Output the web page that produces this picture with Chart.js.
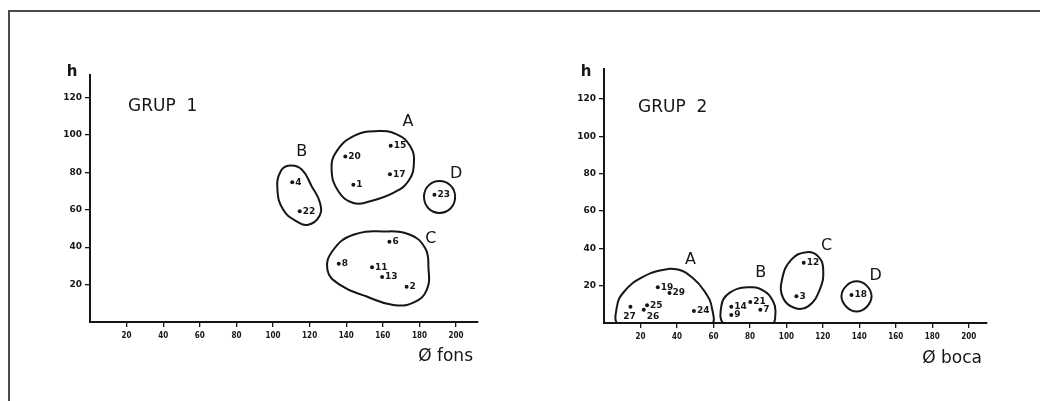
<!DOCTYPE html>
<html>
<head>
<meta charset="utf-8">
<script src="https://cdn.jsdelivr.net/npm/chart.js@4.4.1/dist/chart.umd.min.js"></script>
<style>
    body { margin: 0; background: #fff; width: 1040px; height: 401px; overflow: hidden; position: relative; }
    .frame { position: absolute; left: 8px; top: 10px; right: -4px; bottom: -4px; border-top: 2px solid #4a4a4a; border-left: 2px solid #4a4a4a; }
    .box { position: absolute; }
    #box1 { left: 40px; top: 60px; }
    #box2 { left: 560px; top: 60px; }
</style>
</head>
<body>
<div class="frame"></div>
<div class="box" id="box1"><canvas id="grup1Chart" width="460" height="320"></canvas></div>
<div class="box" id="box2"><canvas id="grup2Chart" width="460" height="320"></canvas></div>
<script>
// Dades llegides del gràfic original
const xTicks = [20, 40, 60, 80, 100, 120, 140, 160, 180, 200];
const yTicks = [20, 40, 60, 80, 100, 120];
const groupNames = ['A', 'B', 'C', 'D'];

// GRUP 1: h vs Ø fons
const grup1Labels = ['4', '22', '20', '1', '15', '17', '23', '6', '8', '11', '13', '2'];
const grup1X = [110.5, 114.6, 139.5, 143.9, 164.3, 163.9, 188.2, 163.6, 135.9, 154.1, 159.6, 173];
const grup1Y = [74.7, 59.2, 88.5, 73.3, 94.2, 79, 68, 42.9, 31.1, 29.3, 24, 18.9];
const grup1OutlineA = [[156.7, 102], [167.6, 100.3], [174.9, 94], [177, 85.1], [173.9, 75.2], [165.7, 69], [153, 64.5], [143.9, 63.6], [135.7, 69.9], [132, 81.5], [134.8, 91.3], [144.8, 99.7]];
const grup1OutlineB = [[109.3, 83.6], [115.7, 81.5], [121.1, 72.6], [125.7, 63.6], [125.3, 56.5], [119.3, 52], [112.9, 53.8], [105.6, 60], [102.4, 70.8], [104.2, 80.6]];
const grup1OutlineC = [[160.3, 48.4], [174.9, 46.6], [183.1, 39.5], [184.9, 29.7], [184, 17.2], [176.7, 10.4], [165.7, 9.1], [151.2, 13.6], [136.6, 19.8], [129.7, 27.9], [133, 38.6], [143.9, 46.6]];
const grup1OutlineD = [[190.9, 75.4], [197.1, 72.9], [199.5, 66.9], [197.1, 60.8], [190.9, 58.3], [184.9, 60.8], [182.5, 66.9], [184.9, 72.9]];

// GRUP 2: h vs Ø boca
const grup2Labels = ['19', '29', '25', '26', '27', '24', '14', '9', '21', '7', '12', '3', '18'];
const grup2X = [29.5, 35.9, 23.6, 21.8, 14.5, 49.3, 69.8, 69.8, 80.2, 85.7, 109.5, 105.5, 135.7];
const grup2Y = [19.1, 16.1, 9.5, 7.1, 8.7, 6.4, 8.7, 4.3, 11.3, 7.1, 32.2, 14.3, 15];
const grup2OutlineA = [[58.4, -1], [59.2, 8], [55.1, 17], [48.7, 24.1], [40.5, 28.6], [31.3, 28.2], [20.3, 24.1], [11.2, 17], [7.1, 8.9], [8.4, -1], [33, -3]];
const grup2OutlineB = [[91.8, -1], [94, 5.4], [92.7, 11.6], [87.2, 17.5], [79, 19.1], [68.8, 16.1], [64.3, 8.9], [66.1, -1], [79, -3]];
const grup2OutlineC = [[111, 37.9], [117.4, 35.7], [120.2, 28.6], [118.3, 17.9], [111.9, 8.9], [104.6, 8], [98.2, 13.4], [97.6, 23.2], [102.7, 33.9]];
const grup2OutlineD = [[138.5, 22.3], [144, 20], [146.7, 14.3], [144, 8.6], [138.5, 6.2], [133, 8.6], [130.2, 14.3], [133, 20]];

const ink = '#161616';
const fontFamily = '"DejaVu Sans", sans-serif';

document.addEventListener('DOMContentLoaded', function () {

    // repeteix els primers punts perquè el contorn tanqui suau
    const closeLoop = (pts) => {
        const all = pts.concat(pts.slice(0, 3));
        return all.map(p => ({ x: p[0], y: p[1] }));
    };

    const outlineDataset = (pts) => {
        const n = pts.length + 3;
        return {
            data: closeLoop(pts),
            showLine: true,
            borderColor: ink,
            borderWidth: 2,
            pointRadius: 0,
            tension: 0.45,
            fill: false,
            segment: {
                borderColor: (c) => (c.p0DataIndex === 0 || c.p1DataIndex === n - 1) ? 'rgba(0,0,0,0)' : undefined
            }
        };
    };

    const textPlugin = (cfg) => ({
        id: 'texts',
        afterDatasetsDraw(chart) {
            const { ctx, chartArea } = chart;
            const sx = chart.scales.x, sy = chart.scales.y;
            ctx.save();
            ctx.fillStyle = ink;

            ctx.font = `bold 9px ${fontFamily}`;
            ctx.textBaseline = 'middle';
            cfg.labels.forEach((lab, i) => {
                const off = cfg.labelOffsets[lab] || [3, 0, 'left'];
                ctx.textAlign = off[2];
                ctx.fillText(lab, sx.getPixelForValue(cfg.xs[i]) + off[0], sy.getPixelForValue(cfg.ys[i]) + off[1]);
            });

            ctx.font = `16px ${fontFamily}`;
            ctx.textAlign = 'center';
            groupNames.forEach((g, i) => {
                ctx.fillText(g, sx.getPixelForValue(cfg.letterX[i]), sy.getPixelForValue(cfg.letterY[i]));
            });

            ctx.textBaseline = 'alphabetic';
            ctx.textAlign = 'left';
            ctx.font = `17px ${fontFamily}`;
            ctx.fillText(cfg.title, cfg.titlePos[0], cfg.titlePos[1]);

            ctx.font = `bold 15px ${fontFamily}`;
            ctx.textAlign = 'center';
            ctx.fillText('h', chartArea.left - 18, 16);

            ctx.font = `17px ${fontFamily}`;
            ctx.textAlign = 'right';
            ctx.fillText(cfg.axisTitle, chartArea.right - 5, cfg.axisTitleY);
            ctx.restore();
        }
    });

    const makeChart = (id, cfg) => {
        const points = cfg.xs.map((v, i) => ({ x: v, y: cfg.ys[i] }));
        return new Chart(document.getElementById(id), {
            type: 'scatter',
            data: {
                datasets: [
                    { data: points, pointRadius: 2, pointBackgroundColor: ink, pointBorderWidth: 0 },
                    ...cfg.outlines.map(outlineDataset)
                ]
            },
            options: {
                responsive: false,
                animation: false,
                layout: { padding: { top: cfg.top, right: cfg.right, left: 0, bottom: 0 } },
                plugins: { legend: { display: false }, tooltip: { enabled: false } },
                scales: {
                    x: {
                        type: 'linear', min: 0, max: cfg.xMax,
                        afterBuildTicks: (s) => { s.ticks = xTicks.map(v => ({ value: v })); },
                        afterFit: (s) => { s.height = cfg.xAxisHeight; },
                        grid: { drawOnChartArea: false, tickLength: 5, color: ink, lineWidth: 1.3 },
                        border: { color: ink, width: 2 },
                        ticks: { color: ink, padding: 4, maxRotation: 0, font: { family: '"DejaVu Sans Condensed", sans-serif', size: 8, weight: 'bold' } }
                    },
                    y: {
                        type: 'linear', min: 0, max: cfg.yMax,
                        afterBuildTicks: (s) => { s.ticks = yTicks.map(v => ({ value: v })); },
                        afterFit: (s) => { s.width = cfg.yAxisWidth; },
                        grid: { drawOnChartArea: false, tickLength: 5, color: ink, lineWidth: 1.3 },
                        border: { color: ink, width: 2 },
                        ticks: { color: ink, padding: 3, font: { family: fontFamily, size: 9, weight: 'bold' } }
                    }
                }
            },
            plugins: [textPlugin(cfg)]
        });
    };

    makeChart('grup1Chart', {
        labels: grup1Labels, xs: grup1X, ys: grup1Y,
        outlines: [grup1OutlineA, grup1OutlineB, grup1OutlineC, grup1OutlineD],
        letterX: [173.8, 115.7, 186.2, 200], letterY: [106.7, 90.8, 44.3, 79.2],
        labelOffsets: {},
        title: 'GRUP  1', titlePos: [88, 51],
        axisTitle: 'Ø fons', axisTitleY: 301,
        xMax: 212, yMax: 132, top: 15, right: 22, yAxisWidth: 50, xAxisHeight: 58
    });

    makeChart('grup2Chart', {
        labels: grup2Labels, xs: grup2X, ys: grup2Y,
        outlines: [grup2OutlineA, grup2OutlineB, grup2OutlineC, grup2OutlineD],
        letterX: [47.4, 85.9, 122, 148.9], letterY: [34, 26.8, 41.1, 25],
        labelOffsets: { '27': [-1, 10, 'center'], '26': [3, 7, 'left'] },
        title: 'GRUP  2', titlePos: [78, 52],
        axisTitle: 'Ø boca', axisTitleY: 303,
        xMax: 210, yMax: 136, top: 9, right: 33, yAxisWidth: 44, xAxisHeight: 57
    });
});
</script>
</body>
</html>
